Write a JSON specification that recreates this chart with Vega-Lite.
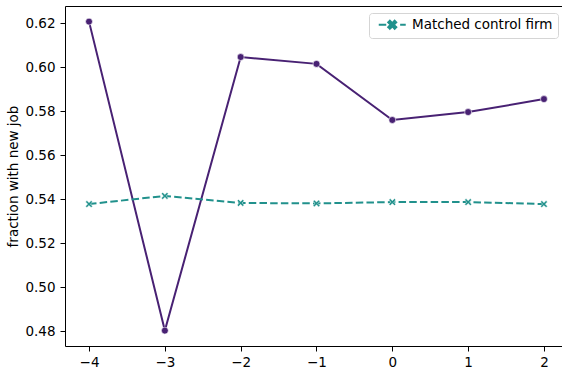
{
  "$schema": "https://vega.github.io/schema/vega-lite/v6.json",
  "width": 497,
  "height": 340,
  "autosize": {"type": "none"},
  "padding": {"left": 65, "top": 6, "right": 0, "bottom": 24},
  "background": "white",
  "config": {
    "font": "DejaVu Sans",
    "view": {"stroke": null},
    "axis": {
      "grid": false,
      "domainColor": "black",
      "domainWidth": 1,
      "tickColor": "black",
      "tickWidth": 1,
      "tickSize": 5,
      "labelFont": "DejaVu Sans",
      "labelFontSize": 13.5,
      "labelColor": "black",
      "titleFont": "DejaVu Sans",
      "titleFontSize": 13.5,
      "titleFontWeight": "normal",
      "titleColor": "black"
    }
  },
  "data": {
    "values": [
      {"event_time": -4, "value": 0.6207, "series": "Displaced"},
      {"event_time": -3, "value": 0.4803, "series": "Displaced"},
      {"event_time": -2, "value": 0.6046, "series": "Displaced"},
      {"event_time": -1, "value": 0.6015, "series": "Displaced"},
      {"event_time": 0, "value": 0.5760, "series": "Displaced"},
      {"event_time": 1, "value": 0.5796, "series": "Displaced"},
      {"event_time": 2, "value": 0.5855, "series": "Displaced"},
      {"event_time": -4, "value": 0.5378, "series": "Matched control firm"},
      {"event_time": -3, "value": 0.5415, "series": "Matched control firm"},
      {"event_time": -2, "value": 0.5383, "series": "Matched control firm"},
      {"event_time": -1, "value": 0.5381, "series": "Matched control firm"},
      {"event_time": 0, "value": 0.5387, "series": "Matched control firm"},
      {"event_time": 1, "value": 0.5387, "series": "Matched control firm"},
      {"event_time": 2, "value": 0.5378, "series": "Matched control firm"}
    ]
  },
  "resolve": {"axis": {"x": "independent", "y": "independent"}},
  "layer": [
    {
      "transform": [{"filter": "datum.series === 'Displaced'"}],
      "mark": {"type": "line", "color": "#482173", "strokeWidth": 2},
      "encoding": {
        "x": {
          "field": "event_time", "type": "quantitative",
          "scale": {"domain": [-4.317, 2.238], "nice": false, "zero": false},
          "axis": {"orient": "bottom", "values": [-4, -3, -2, -1, 0, 1, 2], "format": "d", "title": null, "labelPadding": 4.5, "labelBaseline": "top"}
        },
        "y": {
          "field": "value", "type": "quantitative",
          "scale": {"domain": [0.4733, 0.6278], "nice": false, "zero": false},
          "axis": {"orient": "left", "values": [0.48, 0.50, 0.52, 0.54, 0.56, 0.58, 0.60, 0.62], "format": ".2f", "title": "fraction with new job", "labelPadding": 5, "titlePadding": 4}
        }
      }
    },
    {
      "transform": [{"filter": "datum.series === 'Displaced'"}],
      "mark": {"type": "point", "shape": "circle", "filled": true, "color": "#482173", "size": 48, "stroke": "white", "strokeWidth": 0.6, "opacity": 1},
      "encoding": {
        "x": {"field": "event_time", "type": "quantitative", "axis": {"orient": "top", "labels": false, "ticks": false, "title": null, "domain": true}},
        "y": {"field": "value", "type": "quantitative", "axis": null}
      }
    },
    {
      "transform": [{"filter": "datum.series === 'Matched control firm'"}],
      "mark": {"type": "line", "strokeWidth": 2, "strokeDash": [7.5, 3.2]},
      "encoding": {
        "x": {"field": "event_time", "type": "quantitative", "axis": null},
        "y": {"field": "value", "type": "quantitative", "axis": null},
        "color": {
          "field": "series", "type": "nominal",
          "scale": {"domain": ["Matched control firm"], "range": ["#21918c"]},
          "legend": {
            "title": null,
            "orient": "none",
            "legendX": 304,
            "legendY": 7,
            "padding": 5,
            "fillColor": "white",
            "strokeColor": "#d5d5d5",
            "cornerRadius": 3,
            "labelFont": "DejaVu Sans",
            "labelFontSize": 13.5,
            "labelColor": "black",
            "labelOffset": 13,
            "symbolOffset": 11.5,
            "symbolType": "M-0.8,-0.48L-0.48,-0.8L0,-0.32L0.48,-0.8L0.8,-0.48L0.32,0L0.8,0.48L0.48,0.8L0,0.32L-0.48,0.8L-0.8,0.48L-0.32,0ZM-2.7,0L-1.2,0M1.58,0L2.7,0",
            "symbolSize": 100,
            "symbolStrokeWidth": 2,
            "encode": {
              "symbols": {
                "update": {
                  "fill": {"value": "#21918c"},
                  "stroke": {"value": "#21918c"},
                  "strokeWidth": {"value": 2},
                  "strokeDash": {"value": [1, 0]},
                  "opacity": {"value": 1}
                }
              }
            }
          }
        }
      }
    },
    {
      "transform": [{"filter": "datum.series === 'Matched control firm'"}],
      "mark": {"type": "point", "shape": "M-1,-0.6L-0.6,-1L0,-0.4L0.6,-1L1,-0.6L0.4,0L1,0.6L0.6,1L0,0.4L-0.6,1L-1,0.6L-0.4,0Z", "filled": true, "color": "#21918c", "size": 49, "stroke": "white", "strokeWidth": 0.5, "opacity": 1},
      "encoding": {
        "x": {"field": "event_time", "type": "quantitative", "axis": null},
        "y": {"field": "value", "type": "quantitative", "axis": null}
      }
    }
  ]
}
